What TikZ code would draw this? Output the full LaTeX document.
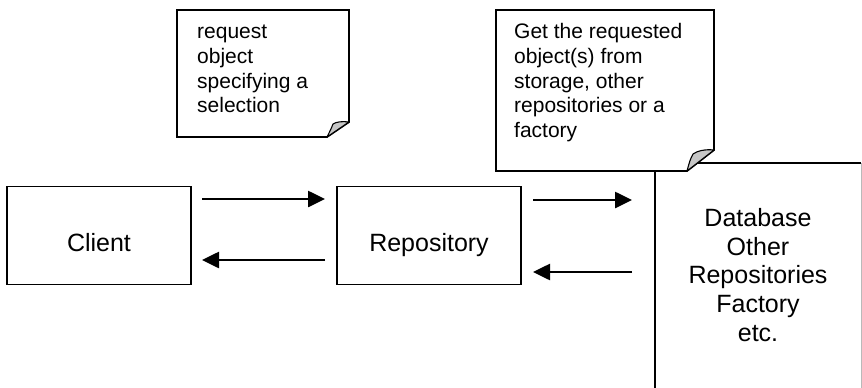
\documentclass[tikz,border=0pt]{standalone}
\usepackage{fontspec}
\setmainfont{Liberation Sans}
\usetikzlibrary{arrows.meta}
\tikzset{
  boxline/.style={draw=black, line width=1.8pt},
  mainbox/.style={boxline, minimum width=184pt, minimum height=98pt, inner sep=0pt,
    font=\fontsize{25}{28.75}\selectfont, text height=31pt, text depth=0pt},
  notepaper/.style={draw=black, fill=white, line width=1.8pt, line join=miter},
  notefold/.style={draw=black, fill=gray!45, line width=1.1pt, line join=round},
  notetext/.style={anchor=north west, inner sep=0pt, align=left,
    font=\fontsize{21}{24.6}\selectfont},
  dbtext/.style={anchor=north, inner sep=0pt, align=center,
    font=\fontsize{25}{28.75}\selectfont},
  flow/.style={line width=2.6pt, -{Triangle[length=17pt,width=16pt]}}
}
\begin{document}
\begin{tikzpicture}[x=1pt,y=-1pt]
\useasboundingbox[fill=white] (0,0) rectangle (862,388);

% main boxes
\node[mainbox] (client) at (99,235.5) {Client};
\node[mainbox] (repo) at (429,235.5) {Repository};

% database box (runs off the bottom)
\draw[boxline] (861,163) -- (655,163) -- (655,388);
\draw[draw=gray!55, line width=0.6pt] (861,163) -- (861,388);
\node[dbtext] (db) at (758,206) {\strut Database\\Other\\Repositories\\Factory\\etc.};

% arrows
\coordinate (c1s) at (202,199);
\coordinate (c1e) at (325,199);
\coordinate (c2s) at (325,260);
\coordinate (c2e) at (202,260);
\coordinate (r1s) at (533,200);
\coordinate (r1e) at (632,200);
\coordinate (r2s) at (632,272);
\coordinate (r2e) at (533,272);
\draw[flow] (c1s) -- (c1e);
\draw[flow] (c2s) -- (c2e);
\draw[flow] (r1s) -- (r1e);
\draw[flow] (r2s) -- (r2e);

% note 1
\draw[notepaper] (177,10) -- (349,10) -- (349,122) -- (327,137) -- (177,137) -- cycle;
\draw[notefold] (349,122) .. controls (342,121) and (336,122) .. (333,124) .. controls (331,129) .. (327,137) -- cycle;
\node[notetext] (note1) at (197,21.5) {\strut request\\object\\specifying a\\selection};

% note 2
\draw[notepaper] (496,10) -- (714,10) -- (714,150) -- (687,171) -- (496,171) -- cycle;
\draw[notefold] (714,150) .. controls (705,149) and (697,151) .. (693,154) .. controls (690,160) .. (687,171) -- cycle;
\node[notetext] (note2) at (514,21.5) {\strut Get the requested\\object(s) from\\storage, other\\repositories or a\\factory};
\end{tikzpicture}
\end{document}
